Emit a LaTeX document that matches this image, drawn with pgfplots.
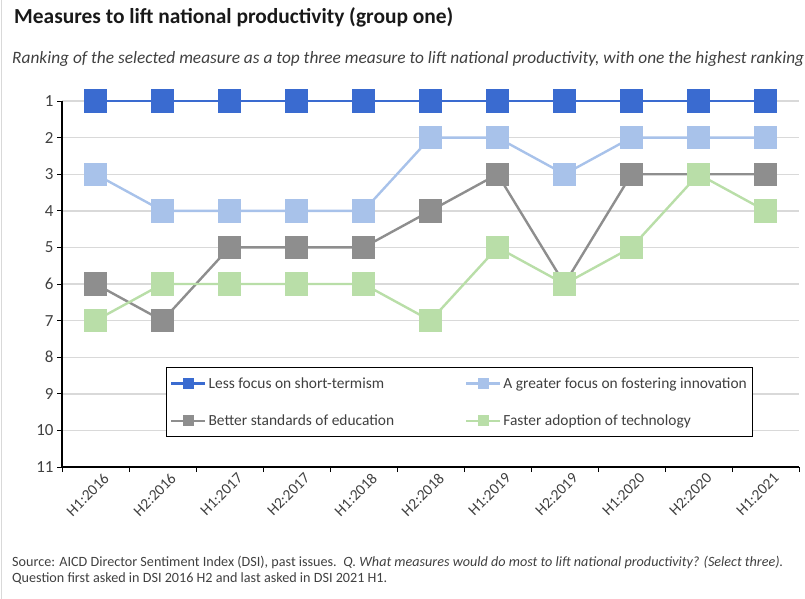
\documentclass[border=0pt]{standalone}
\usepackage{pgfplots}
\pgfplotsset{compat=1.18}
\usepackage{fontspec}
\setmainfont{Carlito}
\definecolor{cblue}{HTML}{3A6BD0}
\definecolor{clblue}{HTML}{A8C2EA}
\definecolor{cgrey}{HTML}{8E8E8E}
\definecolor{cgreen}{HTML}{B9DEA8}
\definecolor{cgrid}{HTML}{D9D9D9}
\definecolor{ctext}{HTML}{404040}
\begin{document}
\begin{tikzpicture}
\useasboundingbox (-62bp,-132bp) rectangle (743bp,467bp);
\draw[cgrid,line width=1bp] (-60bp,-132bp) -- (-60bp,467bp);
\begin{axis}[
  scale only axis,
  width=737bp, height=366bp,
  at={(0,0)}, anchor=south west,
  xmin=-0.5, xmax=10.5,
  ymin=1, ymax=11, y dir=reverse,
  ytick={1,...,11},
  xtick={0,...,10},
  xticklabels={H1:2016,H2:2016,H1:2017,H2:2017,H1:2018,H2:2018,H1:2019,H2:2019,H1:2020,H2:2020,H1:2021},
  /pgf/number format/assume math mode=true,
  major x tick style={draw=none},
  minor xtick={-0.5,0.5,...,10.5},
  minor x tick style={black,line width=1bp},
  minor tick length=5bp,
  xticklabel style={rotate=45, anchor=north east, font=\fontsize{15.5}{17}\selectfont, text=ctext, inner sep=1bp, xshift=6bp, yshift=-4bp},
  yticklabel style={font=\fontsize{17}{19}\selectfont, text=ctext},
  ytick style={black,line width=1bp},
  major tick length=5bp,
  ymajorgrids, grid style={cgrid,line width=1.4bp},
  axis x line*=bottom, axis y line*=left,
  axis line style={black,line width=1.3bp},
  tick align=outside,
  clip=false,
  legend style={at={(0.1411,0.2732)}, anchor=north west, draw=black, line width=0.8bp,
    font=\fontsize{15.5}{17}\selectfont, text=ctext, legend columns=2,
    inner xsep=4bp, inner ysep=8bp, row sep=21bp,
    /tikz/every even column/.append style={column sep=69bp}},
  legend cell align=left,
  legend image code/.code={\draw[#1, mark repeat=2, mark phase=2, line width=2.2bp, mark size=4.5bp] plot coordinates {(0bp,0bp) (17bp,0bp) (34bp,0bp)};},
  every axis plot/.append style={line width=2.4bp, mark=square*, mark size=10.5bp},
]
\addplot[cblue, mark options={fill=cblue}] coordinates {(0,1)(1,1)(2,1)(3,1)(4,1)(5,1)(6,1)(7,1)(8,1)(9,1)(10,1)};
\addlegendentry{Less focus on short-termism}
\addplot[clblue, mark options={fill=clblue}] coordinates {(0,3)(1,4)(2,4)(3,4)(4,4)(5,2)(6,2)(7,3)(8,2)(9,2)(10,2)};
\addlegendentry{A greater focus on fostering innovation}
\addplot[cgrey, mark options={fill=cgrey}] coordinates {(0,6)(1,7)(2,5)(3,5)(4,5)(5,4)(6,3)(7,6)(8,3)(9,3)(10,3)};
\addlegendentry{Better standards of education}
\addplot[cgreen, mark options={fill=cgreen}] coordinates {(0,7)(1,6)(2,6)(3,6)(4,6)(5,7)(6,5)(7,6)(8,5)(9,3)(10,4)};
\addlegendentry{Faster adoption of technology}
\end{axis}
\node[anchor=base west, inner sep=0, font=\bfseries\fontsize{21.5}{24}\selectfont, text=black!90] at (-48bp,443bp) {Measures to lift national productivity (group one)};
\node[anchor=base west, inner sep=0, font=\itshape\fontsize{17.4}{19}\selectfont, text=ctext] at (-50bp,403bp) {Ranking of the selected measure as a top three measure to lift national productivity, with one the highest ranking};
\node[anchor=base west, inner sep=0, font=\fontsize{14.2}{16}\selectfont, text=ctext] at (-50bp,-99bp) {Source: AICD Director Sentiment Index (DSI), past issues.\ \ \textit{Q. What measures would do most to lift national productivity? (Select three).}};
\node[anchor=base west, inner sep=0, font=\fontsize{14.2}{16}\selectfont, text=ctext] at (-50bp,-115bp) {Question first asked in DSI 2016 H2 and last asked in DSI 2021 H1.};
\end{tikzpicture}
\end{document}
